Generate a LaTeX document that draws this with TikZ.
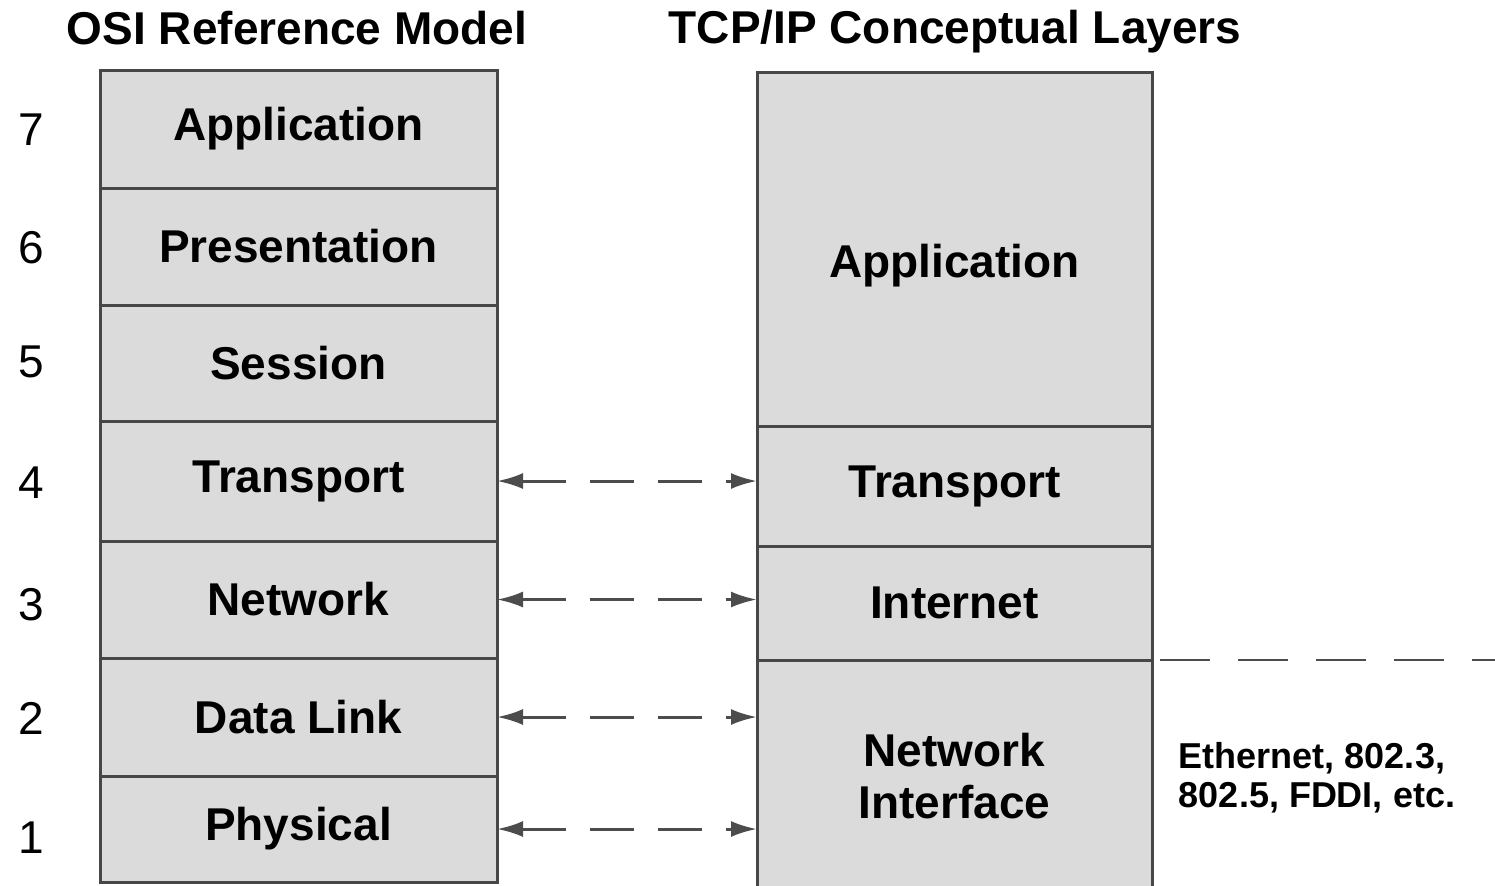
\documentclass[tikz,border=0pt]{standalone}
\usepackage{fontspec}
\setmainfont{Liberation Sans}
\usepackage{tikz}
\usetikzlibrary{arrows.meta,positioning}

\definecolor{layerfill}{gray}{0.86}
\definecolor{layeredge}{gray}{0.28}
\definecolor{dashgray}{gray}{0.3}

\begin{document}
\begin{tikzpicture}[x=0.5pt, y=-0.5pt,
  box/.style={rectangle, draw=layeredge, fill=layerfill, line width=1.5pt, inner sep=0pt, outer sep=0pt, align=center, font=\bfseries\fontsize{23}{26}\selectfont},
  osi/.style={box, minimum width=198.5pt},
  tcp/.style={box, minimum width=197.5pt},
  arrow/.style={{Latex[length=13pt,width=8pt]}-{Latex[length=13pt,width=8pt]}, draw=dashgray, line width=1.5pt, dash pattern=on 22pt off 12pt},
  title/.style={font=\bfseries\fontsize{23}{27}\selectfont}]

\useasboundingbox (0,0) rectangle (1495,885);
\clip (0,0) rectangle (1495,885);

% titles
\node[title] (osi_title) at (297,28) {OSI Reference Model};
\node[title] (tcp_title) at (955,32) {TCP/IP Conceptual Layers};

% OSI stack
\node[osi, minimum height=59pt, anchor=north west] (osi_app) at (100,70) {Application};
\node[osi, minimum height=58.5pt, below=0pt of osi_app] (osi_pres) {Presentation};
\node[osi, minimum height=58pt, below=0pt of osi_pres] (osi_sess) {Session};
\node[osi, minimum height=60pt, below=0pt of osi_sess] (osi_trans) {Transport};
\node[osi, minimum height=58.5pt, below=0pt of osi_trans] (osi_net) {Network};
\node[osi, minimum height=59pt, below=0pt of osi_net] (osi_dl) {Data Link};
\node[osi, minimum height=53pt, below=0pt of osi_dl] (osi_phys) {Physical};

% layer numbers
\foreach \n/\y in {7/130, 6/248, 5/362, 4/483, 3/605, 2/718, 1/838}
  \node[font=\fontsize{23}{26}\selectfont] (num_\n) at (31,\y) {\n};

% TCP/IP stack
\node[tcp, minimum height=177pt, text height=33pt, anchor=north west] (tcp_app) at (757,72) {Application};
\node[tcp, minimum height=60pt, below=0pt of tcp_app] (tcp_trans) {Transport};
\node[tcp, minimum height=57pt, below=0pt of tcp_trans] (tcp_inet) {Internet};
\node[tcp, minimum height=116pt, below=0pt of tcp_inet] (tcp_ni) {Network\\Interface};

\node[font=\bfseries\fontsize{18}{19.5}\selectfont, align=left] (hw) at (1317,778) {Ethernet, 802.3,\\802.5, FDDI, etc.};
\coordinate (edge_r) at (1495,660);

% Arrows
\draw[arrow] (osi_trans.east) -- (osi_trans.east -| tcp_trans.west);
\draw[arrow] (osi_net.east) -- (osi_net.east -| tcp_inet.west);
\draw[arrow] (osi_dl.east) -- (osi_dl.east -| tcp_ni.west);
\draw[arrow] (osi_phys.east) -- (osi_phys.east -| tcp_ni.west);
\draw[draw=dashgray, line width=1.3pt, dash pattern=on 25pt off 14pt, shorten <=4pt] (tcp_ni.north east) -- (edge_r);

\end{tikzpicture}
\end{document}
